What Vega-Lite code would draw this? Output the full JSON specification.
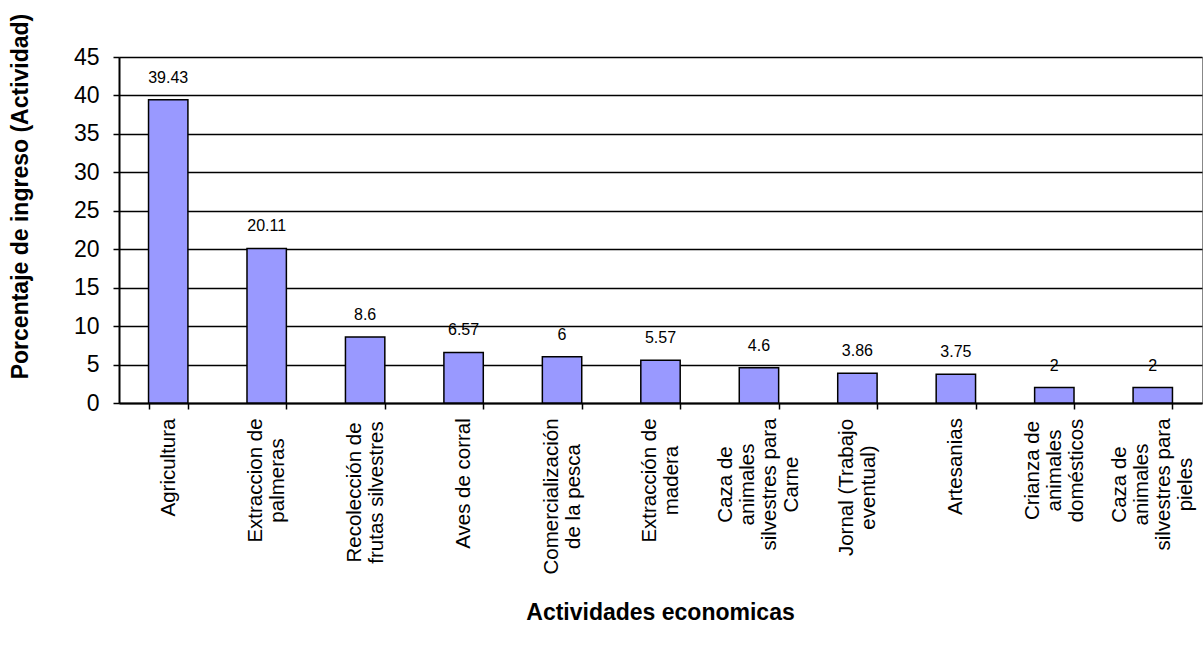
{
  "$schema": "https://vega.github.io/schema/vega-lite/v6.json",
  "autosize": {"type": "none"},
  "padding": {"left": 119, "top": 57, "right": 2, "bottom": 252},
  "width": 1083,
  "height": 346,
  "background": "white",
  "config": {
    "font": "Liberation Sans",
    "view": {"stroke": "#888888", "strokeWidth": 1}
  },
  "data": {
    "values": [
      {"actividad": "Agricultura", "porcentaje": 39.43},
      {"actividad": "Extraccion de|palmeras", "porcentaje": 20.11},
      {"actividad": "Recolección de|frutas  silvestres", "porcentaje": 8.6},
      {"actividad": "Aves de corral", "porcentaje": 6.57},
      {"actividad": "Comercialización|de la pesca", "porcentaje": 6},
      {"actividad": "Extracción de|madera", "porcentaje": 5.57},
      {"actividad": "Caza de|animales|silvestres para|Carne", "porcentaje": 4.6},
      {"actividad": "Jornal (Trabajo|eventual)", "porcentaje": 3.86},
      {"actividad": "Artesanias", "porcentaje": 3.75},
      {"actividad": "Crianza de|animales|domésticos", "porcentaje": 2},
      {"actividad": "Caza de|animales|silvestres para|pieles", "porcentaje": 2}
    ]
  },
  "encoding": {
    "x": {
      "field": "actividad",
      "type": "nominal",
      "sort": null,
      "scale": {"paddingInner": 0.6, "paddingOuter": 0.3},
      "axis": {
        "title": "Actividades economicas",
        "titleFont": "Liberation Sans",
        "titleFontSize": 23,
        "titleFontWeight": "bold",
        "titleColor": "black",
        "titleX": 541,
        "titleY": 209,
        "titleBaseline": "middle",
        "titleAlign": "center",
        "labelAngle": -90,
        "labelAlign": "center",
        "labelBaseline": "middle",
        "labelFontSize": 20.5,
        "labelColor": "black",
        "labelLineHeight": 22,
        "labelExpr": "split(datum.label, '|')",
        "labelOffset": {
          "condition": [
            {"test": "length(split(datum.value, '|')) == 4", "value": -33},
            {"test": "length(split(datum.value, '|')) == 3", "value": -22},
            {"test": "length(split(datum.value, '|')) == 2", "value": -11}
          ],
          "value": 0
        },
        "labelPadding": {
          "condition": [
            {"test": "datum.value == 'Agricultura'", "value": 58},
            {"test": "datum.value == 'Extraccion de|palmeras'", "value": 71},
            {"test": "datum.value == 'Recolección de|frutas  silvestres'", "value": 83},
            {"test": "datum.value == 'Aves de corral'", "value": 74},
            {"test": "datum.value == 'Comercialización|de la pesca'", "value": 87},
            {"test": "datum.value == 'Extracción de|madera'", "value": 71},
            {"test": "datum.value == 'Jornal (Trabajo|eventual)'", "value": 78},
            {"test": "datum.value == 'Artesanias'", "value": 57},
            {"test": "datum.value == 'Crianza de|animales|domésticos'", "value": 61}
          ],
          "value": 75
        },
        "tickBand": "extent",
        "tickSize": 6,
        "tickColor": "black",
        "tickWidth": 1.5,
        "domainColor": "black",
        "domainWidth": 2,
        "labelOverlap": false,
        "labelLimit": 400,
        "grid": false
      }
    },
    "y": {
      "field": "porcentaje",
      "type": "quantitative",
      "scale": {"domain": [0, 45], "nice": false},
      "axis": {
        "title": "Porcentaje de ingreso (Actividad)",
        "titleFontSize": 23,
        "titleFontWeight": "bold",
        "titleColor": "black",
        "titleX": -99,
        "titleY": 139,
        "titleAngle": 270,
        "titleBaseline": "middle",
        "titleAlign": "center",
        "values": [0, 5, 10, 15, 20, 25, 30, 35, 40, 45],
        "labelFontSize": 23,
        "labelColor": "black",
        "labelPadding": 14,
        "tickSize": 6,
        "tickColor": "black",
        "tickWidth": 1.5,
        "domainColor": "black",
        "domainWidth": 2,
        "grid": true,
        "gridColor": "black",
        "gridWidth": 1.5,
        "gridOpacity": 1
      }
    }
  },
  "layer": [
    {
      "mark": {"type": "bar", "color": "#9999FF", "stroke": "black", "strokeWidth": 1.5}
    },
    {
      "mark": {"type": "text", "baseline": "alphabetic", "dy": -17, "fontSize": 16, "color": "black"},
      "encoding": {"text": {"field": "porcentaje", "type": "quantitative"}}
    }
  ]
}
